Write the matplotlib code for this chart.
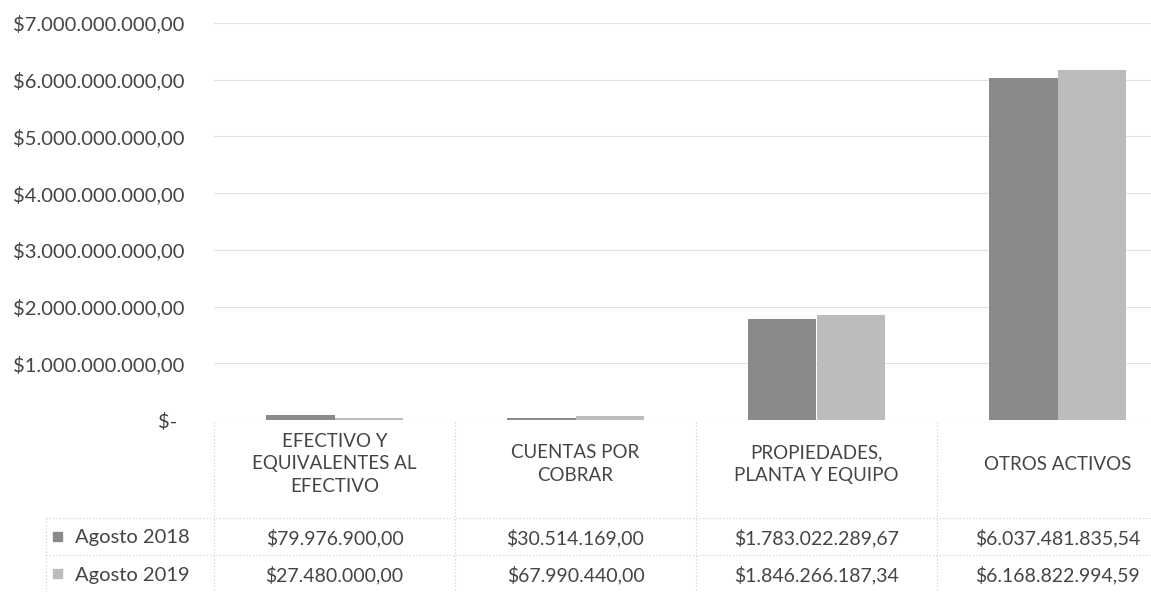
import matplotlib
matplotlib.use("Agg")
import matplotlib.pyplot as plt
import matplotlib.transforms as mtransforms
import numpy as np

categories = ["EFECTIVO Y\nEQUIVALENTES AL\nEFECTIVO", "CUENTAS POR\nCOBRAR",
              "PROPIEDADES,\nPLANTA Y EQUIPO", "OTROS ACTIVOS"]
series_names = ["Agosto 2018", "Agosto 2019"]
values_2018 = [79976900.00, 30514169.00, 1783022289.67, 6037481835.54]
values_2019 = [27480000.00, 67990440.00, 1846266187.34, 6168822994.59]
labels_2018 = ["$79.976.900,00", "$30.514.169,00", "$1.783.022.289,67", "$6.037.481.835,54"]
labels_2019 = ["$27.480.000,00", "$67.990.440,00", "$1.846.266.187,34", "$6.168.822.994,59"]
y_ticks = [0, 1e9, 2e9, 3e9, 4e9, 5e9, 6e9, 7e9]
y_tick_labels = ["$-", "$1.000.000.000,00", "$2.000.000.000,00", "$3.000.000.000,00",
                 "$4.000.000.000,00", "$5.000.000.000,00", "$6.000.000.000,00",
                 "$7.000.000.000,00"]

plt.rcParams['font.family'] = ['Lato', 'DejaVu Sans']
W, H = 1151, 592
fig = plt.figure(figsize=(W / 100, H / 100), dpi=100)
txt = '#444444'
c18 = '#8a8a8a'
c19 = '#bcbcbc'
grid_c = '#e2e2e2'

# main axes (extends slightly past right edge like the cropped original)
ax = fig.add_axes([214 / W, (H - 420) / H, 964 / W, (420 - 23) / H])
x = np.arange(len(categories))
bw = 0.285
ax.bar(x - bw / 2, values_2018, bw, color=c18, zorder=3)
ax.bar(x + bw / 2, values_2019, bw, color=c19, zorder=3)
ax.set_xlim(-0.5, len(categories) - 0.5)
ax.set_ylim(0, 7e9)
ax.set_yticks(y_ticks)
ax.set_yticklabels(y_tick_labels, color=txt, fontsize=14.5)
ax.tick_params(axis='y', length=0, pad=21)
ax.set_xticks([])
for s in ax.spines.values():
    s.set_visible(False)
ax.grid(axis='y', color=grid_c, linewidth=0.8, zorder=0)
# shift "$-" a bit left as in accounting format
ax.get_yticklabels()[0].set_x(-0.008)

# overlay in pixel coords for table
ov = fig.add_axes([0, 0, 1, 1], zorder=-1)
ov.set_xlim(0, W)
ov.set_ylim(H, 0)
ov.axis('off')
blend = mtransforms.blended_transform_factory(ax.transData, ov.transData)

for i, cat in enumerate(categories):
    ov.text(x[i], 464, cat, transform=blend, ha='center', va='center',
            fontsize=13.5, color=txt, linespacing=1.4)
    ov.text(x[i], 538, labels_2018[i], transform=blend, ha='center', va='center',
            fontsize=14, color=txt)
    ov.text(x[i], 575, labels_2019[i], transform=blend, ha='center', va='center',
            fontsize=14, color=txt)

# legend keys
ov.add_patch(plt.Rectangle((53, 532), 9, 9, color=c18))
ov.add_patch(plt.Rectangle((53, 569), 9, 9, color=c19))
ov.text(75, 538, series_names[0], ha='left', va='center', fontsize=14.5, color=txt)
ov.text(75, 575, series_names[1], ha='left', va='center', fontsize=14.5, color=txt)

# table borders (dotted light)
bc = '#cfcfcf'
for yy in (518, 555):
    ov.plot([46, W], [yy, yy], color=bc, linewidth=0.8, linestyle=(0, (1, 2)))
ov.plot([46, 46], [518, H], color=bc, linewidth=0.8, linestyle=(0, (1, 2)))
for b in np.arange(len(categories)) - 0.5:
    ov.plot([b, b], [422, H], color=bc, linewidth=0.8, linestyle=(0, (1, 2)),
            transform=blend)

fig.savefig("out.png", dpi=100)
